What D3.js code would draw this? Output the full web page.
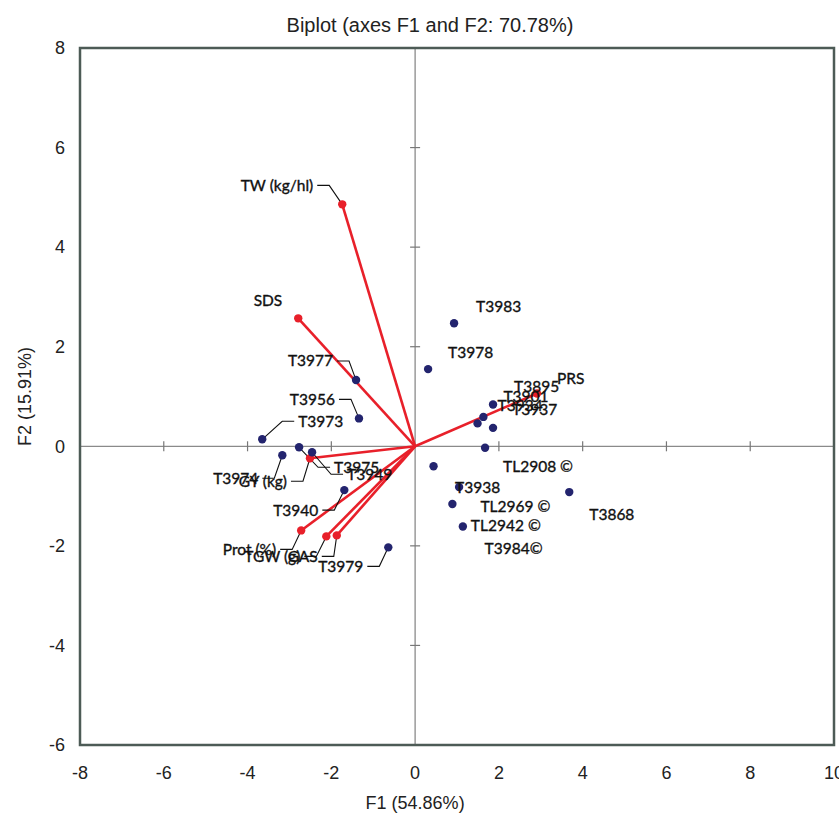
<!DOCTYPE html>
<html>
<head>
<meta charset="utf-8">
<script src="https://cdn.jsdelivr.net/npm/d3@7"></script>
<style>
  body { margin: 0; background: #fff; }
  svg text { font-family: "Liberation Sans", Arial, sans-serif; }
  .pt-label { font-family: Lato, "Open Sans", sans-serif; font-size: 15.5px; fill: #111; stroke: #111; stroke-width: 0.35px; }
</style>
</head>
<body>
<svg id="chart"></svg>
<script>
// observations (cultivars / lines)
const obsNames = ['T3983', 'T3978', 'T3868', 'T3895', 'T3901', 'T3934', 'T3937',
    'TL2908 ©', 'T3984©', 'T3938', 'TL2969 ©', 'TL2942 ©',
    'T3973', 'T3974', 'T3975', 'T3949', 'T3940', 'T3979', 'T3977', 'T3956'];
const obsF1 = [0.93, 0.31, 3.68, 1.86, 1.63, 1.49, 1.86,
    1.67, 0.44, 1.05, 0.89, 1.14,
    -3.65, -3.17, -2.77, -2.46, -1.69, -0.64, -1.41, -1.34];
const obsF2 = [2.47, 1.55, -0.92, 0.84, 0.59, 0.46, 0.37,
    -0.03, -0.40, -0.82, -1.16, -1.61,
    0.14, -0.18, -0.02, -0.12, -0.88, -2.03, 1.33, 0.56];

// variables (loadings)
const varNames = ['TW (kg/hl)', 'SDS', 'PRS', 'GY (kg)', 'Prot (%)', 'TGW (g)', 'GAS'];
const varF1 = [-1.74, -2.79, 2.91, -2.51, -2.72, -2.12, -1.87];
const varF2 = [4.86, 2.57, 1.06, -0.24, -1.69, -1.81, -1.79];

const xTicks = [-8, -6, -4, -2, 0, 2, 4, 6, 8, 10];
const yTicks = [-6, -4, -2, 0, 2, 4, 6, 8];

const title = 'Biplot (axes F1 and F2: 70.78%)';
const xTitle = 'F1 (54.86%)';
const yTitle = 'F2 (15.91%)';

// label placement: [dx, dy, anchor, leader]
const labelLayout = {
    'T3983': [22, -17, 'start', false],
    'T3978': [20, -17, 'start', false],
    'T3868': [20, 22, 'start', false],
    'T3895': [21, -18, 'start', false],
    'T3901': [20, -20, 'start', false],
    'T3934': [20, -18, 'start', false],
    'T3937': [19, -18, 'start', false],
    'TL2908 ©': [18, 19, 'start', false],
    'T3984©': [51, 82, 'start', false],
    'T3938': [-4, 0, 'start', false],
    'TL2969 ©': [28, 3, 'start', false],
    'TL2942 ©': [8, -1, 'start', false],
    'T3973': [36, -18, 'start', true],
    'T3974': [-24, 23, 'end', true],
    'T3975': [35, 20, 'start', true],
    'T3949': [35, 22, 'start', true],
    'T3940': [-26, 20, 'end', true],
    'T3979': [-25, 19, 'end', true],
    'T3977': [-23, -19, 'end', true],
    'T3956': [-24, -19, 'end', true],
    'TW (kg/hl)': [-29, -19, 'end', true],
    'SDS': [-16, -18, 'end', false],
    'PRS': [20, -15, 'start', false],
    'GY (kg)': [-23, 23, 'end', true],
    'Prot (%)': [-25, 19, 'end', true],
    'TGW (g)': [-26, 20, 'end', true],
    'GAS': [-19, 21, 'end', true]
};

const width = 839, height = 814;
const margin = { top: 48, right: 5, bottom: 69, left: 80 };

const svg = d3.select('#chart').attr('width', width).attr('height', height);

const x = d3.scaleLinear().domain([-8, 10]).range([margin.left, width - margin.right]);
const y = d3.scaleLinear().domain([-6, 8]).range([height - margin.bottom, margin.top]);

const obs = obsNames.map((n, i) => ({ name: n, f1: obsF1[i], f2: obsF2[i] }));
const vars = varNames.map((n, i) => ({ name: n, f1: varF1[i], f2: varF2[i] }));

// zero lines
svg.append('line')
    .attr('x1', x(-8)).attr('x2', x(10)).attr('y1', y(0)).attr('y2', y(0))
    .attr('stroke', '#8a8a8a').attr('stroke-width', 1.3);
svg.append('line')
    .attr('x1', x(0)).attr('x2', x(0)).attr('y1', y(-6)).attr('y2', y(8))
    .attr('stroke', '#8a8a8a').attr('stroke-width', 1.3);

// crossing ticks on the zero lines
svg.append('g').selectAll('line')
    .data(xTicks.filter(d => d > -8 && d < 10 && d !== 0))
    .join('line')
    .attr('x1', d => x(d)).attr('x2', d => x(d))
    .attr('y1', y(0) - 5).attr('y2', y(0) + 5)
    .attr('stroke', '#777').attr('stroke-width', 1.2);
svg.append('g').selectAll('line')
    .data(yTicks.filter(d => d > -6 && d < 8 && d !== 0))
    .join('line')
    .attr('y1', d => y(d)).attr('y2', d => y(d))
    .attr('x1', x(0) - 5).attr('x2', x(0) + 5)
    .attr('stroke', '#777').attr('stroke-width', 1.2);

// frame
svg.append('rect')
    .attr('x', x(-8)).attr('y', y(8))
    .attr('width', x(10) - x(-8)).attr('height', y(-6) - y(8))
    .attr('fill', 'none').attr('stroke', '#4d5b56').attr('stroke-width', 2.5);

// tick labels
svg.append('g').selectAll('text')
    .data(xTicks)
    .join('text')
    .attr('x', d => x(d)).attr('y', y(-6) + 34)
    .attr('text-anchor', 'middle')
    .attr('font-size', 18).attr('fill', '#222')
    .text(d => d);
svg.append('g').selectAll('text')
    .data(yTicks)
    .join('text')
    .attr('x', x(-8) - 15).attr('y', d => y(d))
    .attr('dy', '0.35em')
    .attr('text-anchor', 'end')
    .attr('font-size', 18).attr('fill', '#222')
    .text(d => d);

// titles
svg.append('text')
    .attr('x', 430).attr('y', 32)
    .attr('text-anchor', 'middle').attr('font-size', 20).attr('fill', '#222')
    .text(title);
svg.append('text')
    .attr('x', x(0)).attr('y', y(-6) + 64)
    .attr('text-anchor', 'middle').attr('font-size', 18).attr('fill', '#222')
    .text(xTitle);
svg.append('text')
    .attr('transform', `translate(31,${(y(8) + y(-6)) / 2}) rotate(-90)`)
    .attr('text-anchor', 'middle').attr('font-size', 18).attr('fill', '#222')
    .text(yTitle);

// vectors
svg.append('g').selectAll('line')
    .data(vars)
    .join('line')
    .attr('x1', x(0)).attr('y1', y(0))
    .attr('x2', d => x(d.f1)).attr('y2', d => y(d.f2))
    .attr('stroke', '#e8202a').attr('stroke-width', 2.6);

// leader lines
const all = obs.concat(vars);
const leaders = svg.append('g');
all.forEach(d => {
    const lay = labelLayout[d.name];
    if (!lay || !lay[3]) return;
    const px = x(d.f1), py = y(d.f2);
    const lx = px + lay[0], ly = py + lay[1];
    const dir = lay[2] === 'end' ? 1 : -1; // side pointing back toward dot
    const e0 = lx + dir * 4;
    const e1 = lx + dir * 16;
    leaders.append('polyline')
        .attr('points', `${e0},${ly} ${e1},${ly} ${px},${py}`)
        .attr('fill', 'none').attr('stroke', '#111').attr('stroke-width', 1.1);
});

// dots
svg.append('g').selectAll('circle')
    .data(vars)
    .join('circle')
    .attr('cx', d => x(d.f1)).attr('cy', d => y(d.f2)).attr('r', 4.2)
    .attr('fill', '#e8202a');
svg.append('g').selectAll('circle')
    .data(obs)
    .join('circle')
    .attr('cx', d => x(d.f1)).attr('cy', d => y(d.f2)).attr('r', 4.2)
    .attr('fill', '#23246e');

// labels
svg.append('g').selectAll('text')
    .data(all)
    .join('text')
    .attr('class', 'pt-label')
    .attr('x', d => x(d.f1) + labelLayout[d.name][0])
    .attr('y', d => y(d.f2) + labelLayout[d.name][1])
    .attr('dy', '0.35em')
    .attr('text-anchor', d => labelLayout[d.name][2])
    .text(d => d.name);
</script>
</body>
</html>
